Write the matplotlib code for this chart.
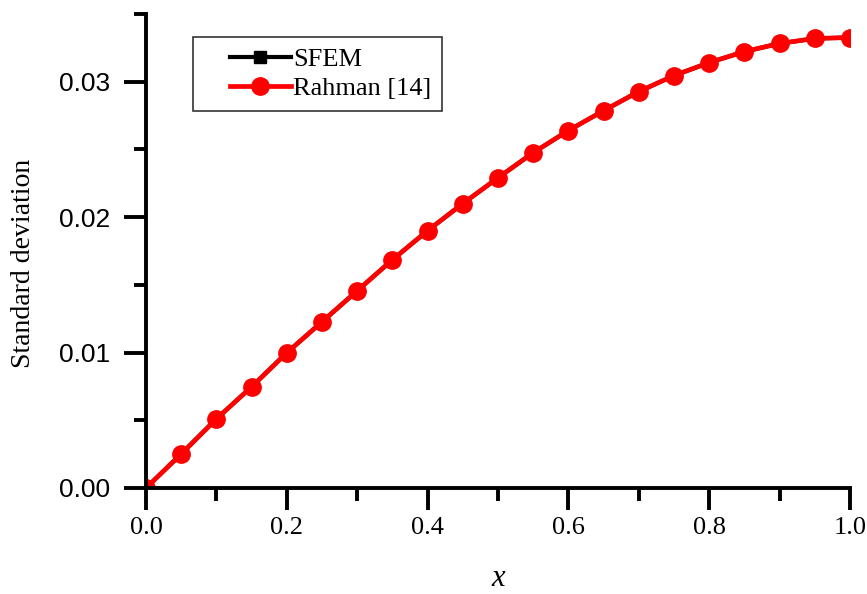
import matplotlib
matplotlib.use("Agg")
import matplotlib.pyplot as plt
from matplotlib.ticker import MultipleLocator, FormatStrFormatter
from matplotlib.legend_handler import HandlerLine2D

# data
x = [0.0, 0.05, 0.1, 0.15, 0.2, 0.25, 0.3, 0.35, 0.4, 0.45, 0.5,
     0.55, 0.6, 0.65, 0.7, 0.75, 0.8, 0.85, 0.9, 0.95, 1.0]
sfem = [0.0, 0.00251, 0.0051, 0.00747, 0.00998, 0.01227, 0.01456, 0.01685, 0.0190, 0.0210, 0.0229,
        0.02476, 0.02639, 0.02786, 0.02927, 0.03045, 0.03141, 0.03222, 0.03282, 0.03319, 0.03326]
rahman = [0.0, 0.00251, 0.0051, 0.00747, 0.00998, 0.01227, 0.01456, 0.01685, 0.0190, 0.0210, 0.0229,
          0.02476, 0.02639, 0.02786, 0.02927, 0.03045, 0.03141, 0.03222, 0.03282, 0.03319, 0.03326]

fig = plt.figure(figsize=(8.67, 5.94), dpi=100)
ax = fig.add_axes([0.1684, 0.1785, 0.812, 0.798])

l1, = ax.plot(x, sfem, color="black", lw=3, marker="s", ms=8, label="SFEM")
l2, = ax.plot(x, rahman, color="red", lw=3.4, marker="o", ms=12.5, label="Rahman [14]")

ax.set_xlim(0, 1.0)
ax.set_ylim(0, 0.035)

# axis styling
for side in ["top", "right"]:
    ax.spines[side].set_visible(False)
for side in ["left", "bottom"]:
    ax.spines[side].set_linewidth(2.8)

ax.xaxis.set_major_locator(MultipleLocator(0.2))
ax.xaxis.set_minor_locator(MultipleLocator(0.1))
ax.yaxis.set_major_locator(MultipleLocator(0.01))
ax.yaxis.set_minor_locator(MultipleLocator(0.005))
ax.xaxis.set_major_formatter(FormatStrFormatter("%.1f"))
ax.yaxis.set_major_formatter(FormatStrFormatter("%.2f"))

ax.tick_params(which="major", direction="out", length=16, width=2.8)
ax.tick_params(which="minor", direction="out", length=9, width=2.8)
ax.tick_params(axis="x", pad=5)
ax.tick_params(axis="y", pad=10)

for lab in ax.get_xticklabels():
    lab.set_family("Liberation Serif")
    lab.set_fontsize(19)
for lab in ax.get_yticklabels():
    lab.set_family("Liberation Sans")
    lab.set_fontsize(19)

ax.set_xlabel("x", family="Liberation Serif", style="italic", fontsize=22, labelpad=18)
ax.set_ylabel("Standard deviation", family="Liberation Serif", fontsize=20)
ax.yaxis.set_label_coords(-0.156, 0.473)

hm = {l1: HandlerLine2D(xpad=1.0), l2: HandlerLine2D(xpad=1.0)}
leg = ax.legend(handles=[l1, l2], handler_map=hm,
                loc="upper left", bbox_to_anchor=(0.067, 0.951),
                prop={"family": "Liberation Serif", "size": 19},
                frameon=True, fancybox=False, edgecolor="black",
                handlelength=3.3, handletextpad=0.1, borderpad=0.4,
                labelspacing=0.2, borderaxespad=0)
leg.get_frame().set_linewidth(1.2)

plt.savefig("out.png", dpi=100)
